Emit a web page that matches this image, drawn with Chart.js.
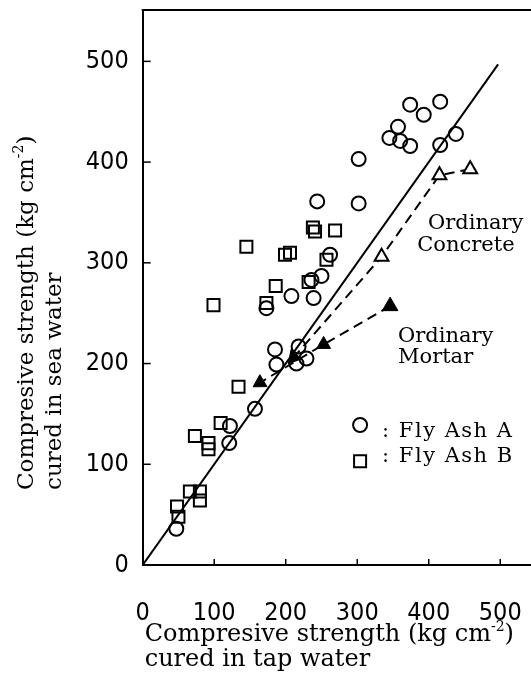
<!DOCTYPE html>
<html>
<head>
<meta charset="utf-8">
<script src="https://cdn.jsdelivr.net/npm/chart.js@4.4.1/dist/chart.umd.min.js"></script>
<style>
  html, body { margin: 0; padding: 0; background: #fff; }
  #wrap { width: 531px; height: 697px; }
</style>
</head>
<body>
<div id="wrap"><canvas id="strengthChart" width="531" height="697"></canvas></div>
<script>
// tap water strength (x) vs sea water strength (y), kg cm-2
const flyAshA = [
  [374, 457], [416, 460], [393, 447], [357, 435], [345, 424], [360, 421], [374, 416],
  [438, 428], [416, 417], [302, 403], [302, 359], [244, 361], [250, 287], [236, 283],
  [239, 265], [208, 267], [173, 255], [262, 308], [185, 214], [218, 217], [187, 199],
  [215, 200], [229, 205], [157, 155], [122, 138], [121, 121], [47, 36]
];
const flyAshB = [
  [145, 316], [199, 308], [206, 310], [186, 277], [99, 258], [173, 260], [238, 335],
  [241, 331], [269, 332], [257, 303], [232, 281], [134, 177], [109, 141], [73, 128],
  [92, 121], [92, 115], [66, 73], [80, 73], [80, 64], [48, 58], [50, 48]
];
const ordinaryConcrete = [[458, 393], [415, 387], [334, 306], [211, 206]];
const ordinaryMortar = [[346, 257], [253, 219], [164, 181]];
const equalityLine = [[0, 0], [497, 497]];

const xTicks = [0, 100, 200, 300, 400, 500];
const yTicks = [0, 100, 200, 300, 400, 500];

const xTitle = ["Compresive strength (kg cm", "-2", ")", "cured in tap water"];
const yTitle = ["Compresive strength (kg cm", "-2", ")", "cured in sea water"];

const toXY = arr => arr.map(p => ({ x: p[0], y: p[1] }));

const tickFont = { family: "'DejaVu Sans Condensed', 'Liberation Sans Narrow', 'Liberation Sans', sans-serif", size: 25 };
const serif = "'DejaVu Serif', 'Liberation Serif', serif";

// text inside the plot, placed in data units
const notes = [
  { text: "Ordinary", x: 399, y: 334 },
  { text: "Concrete", x: 384, y: 312 },
  { text: "Ordinary", x: 357, y: 221 },
  { text: "Mortar", x: 357, y: 201 }
];
const keyItems = [
  { style: "circle", radius: 7, label: ": Fly Ash A", x: 304, y: 139, ty: 127 },
  { style: "rect", radius: 8.5, label: ": Fly Ash B", x: 304, y: 103, ty: 102 }
];

function titleLine(ctx, parts, size) {
  // main text, superscript, closing bracket
  ctx.font = size + "px " + serif;
  ctx.fillText(parts[0], 0, 0);
  let w = ctx.measureText(parts[0]).width;
  ctx.font = Math.round(size * 0.6) + "px " + serif;
  ctx.fillText(parts[1], w, -size * 0.42);
  w += ctx.measureText(parts[1]).width;
  ctx.font = size + "px " + serif;
  ctx.fillText(parts[2], w, 0);
}

const decorations = {
  id: "decorations",
  afterDraw(chart) {
    const { ctx, chartArea: a, scales: { x, y } } = chart;
    ctx.save();
    ctx.strokeStyle = "#000";
    ctx.fillStyle = "#000";
    ctx.lineWidth = 2;

    // top frame
    ctx.beginPath();
    ctx.moveTo(a.left - 1, a.top);
    ctx.lineTo(a.right, a.top);
    ctx.stroke();

    // inward tick marks
    ctx.lineWidth = 1.5;
    yTicks.slice(1).forEach(v => {
      const py = y.getPixelForValue(v);
      ctx.beginPath(); ctx.moveTo(a.left, py); ctx.lineTo(a.left + 8, py); ctx.stroke();
    });
    xTicks.slice(1).forEach(v => {
      const px = x.getPixelForValue(v);
      ctx.beginPath(); ctx.moveTo(px, a.bottom); ctx.lineTo(px, a.bottom - 6); ctx.stroke();
    });

    // notes
    ctx.textBaseline = "alphabetic";
    ctx.textAlign = "left";
    ctx.font = "21px " + serif;
    notes.forEach(n => ctx.fillText(n.text, x.getPixelForValue(n.x), y.getPixelForValue(n.y)));

    // key
    ctx.lineWidth = 2;
    keyItems.forEach(k => {
      ctx.fillStyle = "rgba(0,0,0,0)";
      Chart.helpers.drawPoint(ctx, { pointStyle: k.style, radius: k.radius, borderWidth: 2 },
        x.getPixelForValue(k.x), y.getPixelForValue(k.y));
      ctx.fillStyle = "#000";
      ctx.font = "21px " + serif;
      ctx.letterSpacing = "1.5px";
      ctx.fillText(k.label, x.getPixelForValue(k.x) + 22, y.getPixelForValue(k.ty));
      ctx.letterSpacing = "0px";
    });

    // x title
    ctx.save();
    ctx.translate(a.left + 2, 641);
    titleLine(ctx, xTitle, 24);
    ctx.font = "24px " + serif;
    ctx.fillText(xTitle[3], 0, 25);
    ctx.restore();

    // y title
    ctx.save();
    ctx.translate(33, 490);
    ctx.rotate(-Math.PI / 2);
    titleLine(ctx, yTitle, 23);
    ctx.font = "23px " + serif;
    ctx.fillText(yTitle[3], 0, 28);
    ctx.restore();

    ctx.restore();
  }
};

new Chart(document.getElementById("strengthChart"), {
  type: "scatter",
  data: {
    datasets: [
      {
        label: "Fly Ash A",
        data: toXY(flyAshA),
        pointStyle: "circle",
        pointRadius: 7,
        borderWidth: 2,
        borderColor: "#000",
        backgroundColor: "rgba(0,0,0,0)"
      },
      {
        label: "Fly Ash B",
        data: toXY(flyAshB),
        pointStyle: "rect",
        pointRadius: 8.5,
        borderWidth: 2,
        borderColor: "#000",
        backgroundColor: "rgba(0,0,0,0)"
      },
      {
        label: "Ordinary Concrete",
        data: toXY(ordinaryConcrete),
        showLine: true,
        borderDash: [10, 6],
        borderWidth: 2,
        borderColor: "#000",
        pointStyle: "triangle",
        pointRadius: [8, 8, 8, 7],
        pointRotation: [0, 0, 0, 221],
        pointBorderWidth: 2,
        pointBackgroundColor: ["#fff", "#fff", "#fff", "#000"]
      },
      {
        label: "Ordinary Mortar",
        data: toXY(ordinaryMortar),
        showLine: true,
        borderDash: [10, 6],
        borderWidth: 2,
        borderColor: "#000",
        pointStyle: "triangle",
        pointRadius: [9, 8, 8],
        pointRotation: [0, 240, 239],
        pointBorderWidth: 1,
        pointBackgroundColor: "#000"
      },
      {
        label: "y = x",
        data: toXY(equalityLine),
        showLine: true,
        borderWidth: 2,
        borderColor: "#000",
        pointRadius: 0
      }
    ]
  },
  options: {
    responsive: false,
    animation: false,
    layout: { autoPadding: false, padding: { top: 10, right: 0, left: 0, bottom: 0 } },
    plugins: { legend: { display: false }, tooltip: { enabled: false } },
    scales: {
      x: {
        type: "linear",
        min: 0,
        max: 543,
        afterBuildTicks: s => { s.ticks = xTicks.map(v => ({ value: v })); },
        afterFit: s => { s.height = 132; s.paddingLeft = 0; s.paddingRight = 0; },
        grid: { display: false, drawTicks: false },
        border: { display: true, width: 2, color: "#000" },
        ticks: { color: "#000", font: tickFont, padding: 33, maxRotation: 0, autoSkip: false }
      },
      y: {
        type: "linear",
        min: 0,
        max: 551,
        afterBuildTicks: s => { s.ticks = yTicks.map(v => ({ value: v })); },
        afterFit: s => { s.width = 142.7; s.paddingTop = 0; s.paddingBottom = 0; },
        grid: { display: false, drawTicks: false },
        border: { display: true, width: 2, color: "#000" },
        ticks: { color: "#000", font: tickFont, padding: 14, autoSkip: false }
      }
    }
  },
  plugins: [decorations]
});
</script>
</body>
</html>
